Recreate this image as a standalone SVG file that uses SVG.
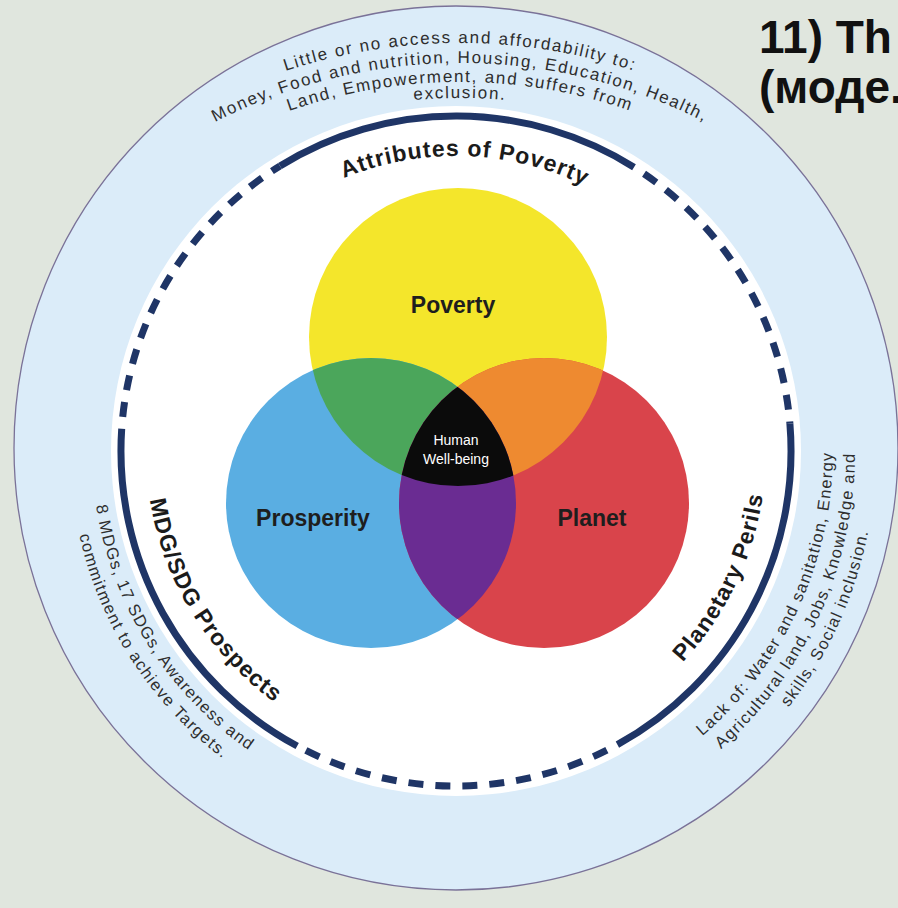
<svg xmlns="http://www.w3.org/2000/svg" width="898" height="908" viewBox="0 0 898 908">
  <style>
    .desc { font-family: "Liberation Sans", Arial, sans-serif; font-size: 17px; fill: #2e2e2e; letter-spacing: 1.7px; }
    .side { font-family: "Liberation Sans", Arial, sans-serif; font-size: 16.5px; fill: #2e2e2e; letter-spacing: 1.3px; }
    .label { font-family: "Liberation Sans", Arial, sans-serif; font-size: 23px; font-weight: bold; fill: #1b1b1b; letter-spacing: 1px; }
    .venn { font-family: "Liberation Sans", Arial, sans-serif; font-size: 23px; font-weight: bold; fill: #1e1e1e; text-anchor: middle; }
    .core { font-family: "Liberation Sans", Arial, sans-serif; font-size: 14px; fill: #ffffff; text-anchor: middle; }
    .title { font-family: "Liberation Sans", Arial, sans-serif; font-size: 46px; font-weight: bold; fill: #111111; }
    .solid { fill: none; stroke: #1f3566; stroke-width: 7; }
    .dash { fill: none; stroke: #1f3566; stroke-width: 7; stroke-dasharray: 15 12; stroke-dashoffset: 15; }
  </style>
  <defs>
    <!-- arcs used as text baselines -->
    <path id="top1" d="M -97,600 A 557 557 0 0 1 1017,600"/>
    <path id="top2" d="M -77,600 A 537 537 0 0 1 997,600"/>
    <path id="top3" d="M -58,600 A 518 518 0 0 1 978,600"/>
    <path id="top4" d="M -42,600 A 502 502 0 0 1 962,600"/>
    <path id="lblTop" d="M 161,451 A 295 295 0 0 1 751,451"/>
    <path id="lblBottom" d="M 146,451 A 310 310 0 0 0 766,451"/>
    <path id="left1" d="M 92,451 A 364 364 0 0 0 820,451"/>
    <path id="left2" d="M 70,451 A 386 386 0 0 0 842,451"/>
    <path id="right1" d="M 79,451 A 377 377 0 0 0 833,451"/>
    <path id="right2" d="M 57,451 A 399 399 0 0 0 855,451"/>
    <path id="right3" d="M 36,451 A 420 420 0 0 0 876,451"/>
    <clipPath id="clipYellow"><circle cx="458" cy="337" r="149"/></clipPath>
    <clipPath id="clipBlue"><circle cx="371" cy="503" r="145"/></clipPath>
  </defs>

  <rect width="898" height="908" fill="#e0e6de"/>

  <!-- outer band and inner disc -->
  <g id="band">
    <circle cx="456" cy="448" r="442" fill="#dbecf9" stroke="#7a7298" stroke-width="1.3"/>
    <circle cx="456" cy="451" r="345" fill="#ffffff"/>
  </g>

  <!-- boundary ring: solid and dashed arcs -->
  <g id="ring">
    <path class="solid" d="M 280.0,166.0 A 335 335 0 0 1 634.0,167.2"/>
    <path class="solid" d="M 789.9,423.6 A 335 335 0 0 1 617.4,744.6"/>
    <path class="solid" d="M 297.2,746.0 A 335 335 0 0 1 121.7,428.8"/>
    <path class="dash" d="M 634.0,167.2 A 335 335 0 0 1 789.9,423.6"/>
    <path class="dash" d="M 617.4,744.6 A 335 335 0 0 1 297.2,746.0"/>
    <path class="dash" d="M 121.7,428.8 A 335 335 0 0 1 280.0,166.0"/>
  </g>

  <!-- Venn diagram -->
  <g id="venn">
    <g id="poverty">
      <circle cx="458" cy="337" r="149" fill="#f4e62b"/>
    </g>
    <g id="prosperity">
      <circle cx="371" cy="503" r="145" fill="#5aaee2"/>
    </g>
    <g id="planet">
      <circle cx="544" cy="503" r="145" fill="#d9444b"/>
    </g>
    <g id="overlaps">
      <circle cx="371" cy="503" r="145" fill="#4ba65b" clip-path="url(#clipYellow)"/>
      <circle cx="544" cy="503" r="145" fill="#ee8a30" clip-path="url(#clipYellow)"/>
      <circle cx="544" cy="503" r="145" fill="#6a2c92" clip-path="url(#clipBlue)"/>
      <g clip-path="url(#clipYellow)">
        <circle cx="544" cy="503" r="145" fill="#0b0b0b" clip-path="url(#clipBlue)"/>
      </g>
    </g>
    <text class="venn" x="453" y="313">Poverty</text>
    <text class="venn" x="313" y="526">Prosperity</text>
    <text class="venn" x="592" y="526">Planet</text>
    <g id="human-wellbeing">
      <text class="core" x="456" y="445">Human</text>
      <text class="core" x="456" y="464">Well-being</text>
    </g>
  </g>

  <!-- section labels -->
  <g id="label-attributes">
    <text class="label" text-anchor="middle"><textPath href="#lblTop" startOffset="51%">Attributes of Poverty</textPath></text>
  </g>
  <g id="label-prospects">
    <text class="label" text-anchor="middle"><textPath href="#lblBottom" startOffset="17.6%">MDG/SDG Prospects</textPath></text>
  </g>
  <g id="label-perils">
    <text class="label" text-anchor="middle"><textPath href="#lblBottom" startOffset="85.8%">Planetary Perils</textPath></text>
  </g>

  <!-- descriptions in the outer band -->
  <g id="desc-attributes" text-anchor="middle">
    <text class="desc"><textPath href="#top1" startOffset="50%">Little or no access and affordability to:</textPath></text>
    <text class="desc"><textPath href="#top2" startOffset="50%">Money, Food and nutrition, Housing, Education, Health,</textPath></text>
    <text class="desc"><textPath href="#top3" startOffset="50%">Land, Empowerment, and suffers from</textPath></text>
    <text class="desc"><textPath href="#top4" startOffset="50%">exclusion.</textPath></text>
  </g>
  <g id="desc-prospects" text-anchor="middle">
    <text class="side"><textPath href="#left1" startOffset="17.8%">8 MDGs, 17 SDGs, Awareness and</textPath></text>
    <text class="side"><textPath href="#left2" startOffset="18.2%">commitment to achieve Targets.</textPath></text>
  </g>
  <g id="desc-perils" text-anchor="middle">
    <text class="side"><textPath href="#right1" startOffset="86.5%">Lack of: Water and sanitation, Energy,</textPath></text>
    <text class="side"><textPath href="#right2" startOffset="86.5%">Agricultural land, Jobs, Knowledge and</textPath></text>
    <text class="side"><textPath href="#right3" startOffset="86.5%">skills, Social inclusion.</textPath></text>
  </g>

  <!-- heading -->
  <g id="heading">
    <text class="title" x="759" y="53">11) Th</text>
    <text class="title" x="759" y="103">(моде.</text>
  </g>
</svg>
